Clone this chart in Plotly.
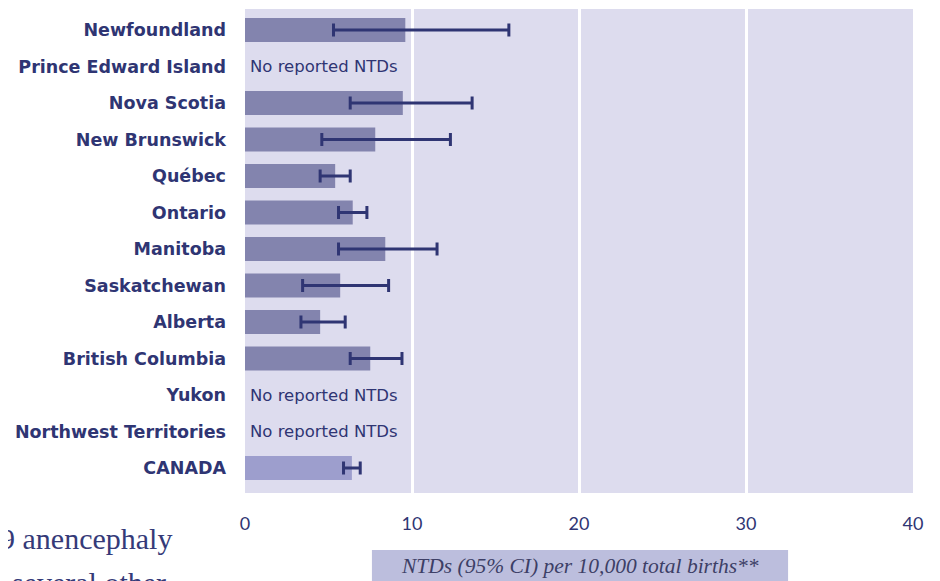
import plotly.graph_objects as go

# NTD rates by province (per 10,000 total births), with 95% CI
regions = [
    "Newfoundland", "Prince Edward Island", "Nova Scotia", "New Brunswick",
    "Québec", "Ontario", "Manitoba", "Saskatchewan", "Alberta",
    "British Columbia", "Yukon", "Northwest Territories", "CANADA",
]
rate = [9.6, None, 9.45, 7.8, 5.4, 6.45, 8.4, 5.7, 4.5, 7.5, None, None, 6.4]
ci_low = [5.3, None, 6.3, 4.6, 4.5, 5.6, 5.6, 3.45, 3.35, 6.3, None, None, 5.9]
ci_high = [15.8, None, 13.6, 12.3, 6.3, 7.3, 11.5, 8.6, 6.0, 9.4, None, None, 6.9]

no_data_text = "No reported NTDs"
x_title = "NTDs (95% CI) per 10,000 total births**"
page_text = ["9 anencephaly", "several other"]

NAVY = "#2f3573"
BAR = "#8384ae"
BAR_CANADA = "#9d9ecd"
BG = "#dddcee"

err_plus = [(h - v) if v is not None else None for v, h in zip(rate, ci_high)]
err_minus = [(v - l) if v is not None else None for v, l in zip(rate, ci_low)]
colors = [BAR_CANADA if r == "CANADA" else BAR for r in regions]

fig = go.Figure()

fig.add_trace(go.Bar(
    x=rate,
    y=regions,
    orientation="h",
    width=0.66,
    marker=dict(color=colors, line=dict(width=0)),
    error_x=dict(
        type="data",
        symmetric=False,
        array=err_plus,
        arrayminus=err_minus,
        color=NAVY,
        thickness=3,
        width=6.5,
    ),
    hoverinfo="skip",
))

# rows with no reported cases
for r, v in zip(regions, rate):
    if v is None:
        fig.add_annotation(
            x=0, y=r, xref="x", yref="y",
            text=no_data_text, showarrow=False,
            xanchor="left", yanchor="middle", xshift=3,
            font=dict(family="DejaVu Sans", size=16.5, color=NAVY),
        )

# axis title sitting in a shaded box
fig.add_shape(
    type="rect", xref="paper", yref="paper",
    x0=0.190, x1=0.813, y0=-0.1178, y1=-0.25,
    fillcolor="#bcbedd", line=dict(width=0), layer="below",
)
fig.add_annotation(
    x=0.5015, y=-0.151, xref="paper", yref="paper",
    text=f"<i>{x_title}</i>", showarrow=False,
    xanchor="center", yanchor="middle",
    font=dict(family="Liberation Serif", size=21.5, color="#3d3f66"),
)

# fragment of the surrounding page text (cropped by the image edge)
fig.add_annotation(
    x=-0.3705, y=-0.056, xref="paper", yref="paper",
    text=page_text[0], showarrow=False, xanchor="left", yanchor="top",
    font=dict(family="Liberation Serif", size=30, color="#353a78"),
)
fig.add_annotation(
    x=-0.352, y=-0.147, xref="paper", yref="paper",
    text=page_text[1], showarrow=False, xanchor="left", yanchor="top",
    font=dict(family="Liberation Serif", size=30, color="#353a78"),
)

# page body has an 8px margin, so the margins are shifted to compensate
fig.update_layout(
    width=940,
    height=581,
    margin=dict(l=237, r=35, t=1, b=96),
    paper_bgcolor="white",
    plot_bgcolor=BG,
    showlegend=False,
    xaxis=dict(
        range=[0, 40],
        dtick=10,
        showgrid=True,
        gridcolor="white",
        gridwidth=3,
        zeroline=False,
        showline=False,
        ticks="",
        ticklabelstandoff=18,
        tickfont=dict(family="Lato", size=18, color=NAVY),
    ),
    yaxis=dict(
        type="category",
        categoryorder="array",
        categoryarray=regions,
        range=[12.685, -0.575],
        showgrid=False,
        zeroline=False,
        showline=False,
        ticks="",
        ticklabelstandoff=18,
        tickfont=dict(family="DejaVu Sans", size=17.5, color=NAVY, weight="bold"),
    ),
)

fig.write_html("out.html")
